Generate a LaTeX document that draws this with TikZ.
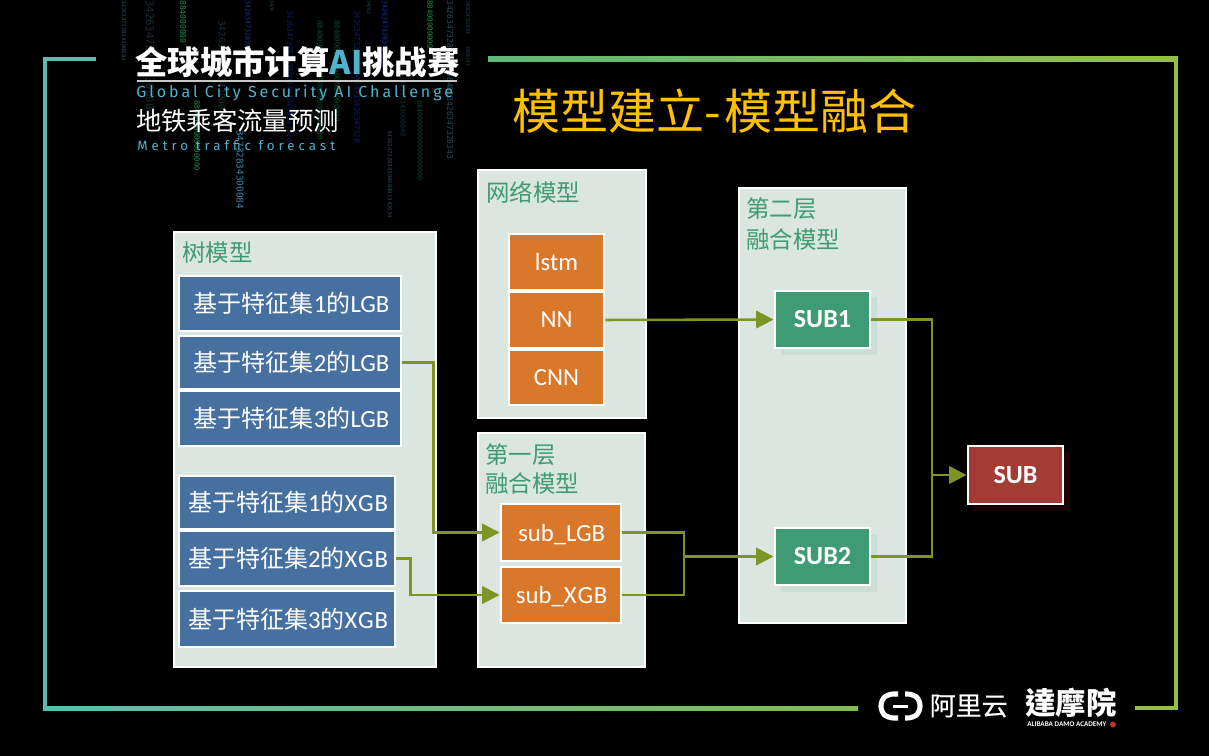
\documentclass[tikz,border=0pt]{standalone}
\usepackage{fontspec}
\usetikzlibrary{arrows.meta}
\setmainfont[Scale=1.03]{Carlito}
\newfontfamily\cj{Noto Sans CJK SC}
\newfontfamily\cjm[FakeBold=0.25]{Noto Sans CJK SC}
\newfontfamily\cjtc{Noto Sans CJK TC}
\newfontfamily\din[LetterSpace=18.5]{Fira Sans}
\newfontfamily\dinb[LetterSpace=30]{Fira Sans}
\newfontfamily\rainf{DejaVu Sans Mono}
\definecolor{panelc}{HTML}{DCE6E0}
\definecolor{headc}{HTML}{3F9B73}
\definecolor{bluec}{HTML}{46709F}
\definecolor{orangec}{HTML}{D9782A}
\definecolor{greenc}{HTML}{3F9B73}
\definecolor{redc}{HTML}{A33C34}
\definecolor{linkc}{HTML}{7F9427}
\definecolor{titlec}{HTML}{FFC000}
\definecolor{cyanc}{HTML}{4FB3CC}
\definecolor{rslate}{HTML}{2A4A58}
\definecolor{rdim}{HTML}{1C2C34}
\definecolor{rgreen}{HTML}{1F8A48}
\definecolor{rdgreen}{HTML}{0F4A2A}
\definecolor{rblue}{HTML}{2030A0}
\definecolor{rdblue}{HTML}{141C60}
\definecolor{rlight}{HTML}{3E86A8}
\tikzset{
  panel/.style={draw=white,line width=1.5pt,fill=panelc,inner sep=0pt},
  boxb/.style={draw=white,line width=1.8pt,inner sep=0pt,text=white,font=\fontsize{18}{20}\selectfont},
  blueb/.style={boxb,fill=bluec,text height=14.2pt,text depth=0pt},
  orangeb/.style={boxb,fill=orangec},
  subb/.style={orangeb,text height=13pt,text depth=0pt},
  greenb/.style={boxb,fill=greenc,font=\fontsize{19}{20}\selectfont\bfseries},
  redb/.style={boxb,fill=redc,font=\fontsize{19}{20}\selectfont\bfseries},
  head/.style={text=headc,anchor=west,inner sep=0pt,font=\fontsize{17.6}{20}\selectfont\cj},
  link/.style={draw=linkc,line width=1.9pt},
  arrowed/.style={link,-{Triangle[length=13pt,width=13pt]}},
  rain/.style={rotate=-90,anchor=west,inner sep=0pt,font=\rainf}
}
\newcommand\bx[7]{\node[#6,minimum width={(#4-#2-1.5)*0.75pt},minimum height={(#5-#3-1.5)*0.75pt}] (#1) at ({(#2+#4)/2},{(#3+#5)/2}) {#7};}
\newcommand\rainc[6]{\node[rain,text=#5] (#1) at (#2,#3) {\fontsize{#4}{#4}\selectfont #6};}
\newcommand\lgbt[1]{\kern2.5pt{\cj 基于特征集}#1{\cj 的}LGB}
\newcommand\xgbt[1]{\kern1.5pt{\cj 基于特征集}#1{\cj 的}X\kern0.6pt G\kern0.6pt B}
\begin{document}
\begin{tikzpicture}[x=0.75pt,y=-0.75pt]
\useasboundingbox (0,0) rectangle (1209,756);
\fill[black] (0,0) rectangle (1209,756);
% frame
\fill[color={rgb,255:red,92;green,188;blue,176}] (43,57) rectangle (96,61.5);
\fill[color={rgb,255:red,92;green,188;blue,176}] (43,57) rectangle (47,710);
\shade[left color={rgb,255:red,92;green,188;blue,176},right color={rgb,255:red,130;green,190;blue,80}] (43,706) rectangle (858,710);
\shade[left color={rgb,255:red,96;green,184;blue,120},right color={rgb,255:red,150;green,190;blue,75}] (488,57) rectangle (1178,61.5);
\fill[color={rgb,255:red,150;green,190;blue,75}] (1174,57) rectangle (1178,710);
\fill[color={rgb,255:red,150;green,190;blue,75}] (1135,706) rectangle (1178,710);
% digit rain
\rainc{r1}{124}{0}{4.2}{rslate}{342634732834300084}
\rainc{r2}{150}{0}{8}{rdim}{34263473283430008401}
\rainc{r3}{183}{0}{6}{rgreen}{884000000}
\rainc{r4}{197}{100}{5.5}{rgreen}{8840000000000000}
\rainc{r5}{222}{20}{7}{rdim}{34263473283430008401}
\rainc{r6}{248}{0}{5}{rblue}{34263473283430008}
\rainc{r7}{240}{130}{7}{rlight}{34732834300084}
\rainc{r8}{272}{0}{3.5}{rslate}{3426}
\rainc{r9}{290}{10}{5.5}{rdblue}{342634732834300084013426347328}
\rainc{r10}{320}{20}{5.5}{rdgreen}{884000000000000000000000000}
\rainc{r11}{337}{20}{5.5}{rdgreen}{88400000000000000000000}
\rainc{r12}{357}{10}{5.5}{rdblue}{342634732834300084013426347328}
\rainc{r13}{369}{0}{3.5}{rslate}{34263}
\rainc{r14}{385}{0}{5}{rblue}{34263473283430008}
\rainc{r15}{390}{130}{4.2}{rslate}{34263473283430008401342634}
\rainc{r16}{403}{60}{5}{rdim}{3426347328343000840}
\rainc{r17}{420}{100}{5}{rdgreen}{88400000000000000000}
\rainc{r18}{430}{0}{5.5}{rgreen}{88400000000}
\rainc{r19}{450}{0}{6}{rslate}{342634732834300084013426347328343}
\rainc{r20}{468}{0}{3.5}{rslate}{342634732834}
\rainc{r21}{468}{46}{3.5}{rslate}{3426347}
% logo
\node[anchor=west,inner sep=0pt,text=white,font=\fontsize{24.3}{26}\selectfont\cj\bfseries] (logo) at (135,62) {全球城市计算{\color{cyanc}AI}挑战赛};
\draw[color={rgb,255:red,200;green,200;blue,200},line width=0.8pt] (137,81) -- (457,81);
\node[anchor=west,inner sep=0pt,text=cyanc,font=\din\fontsize{12}{14}\selectfont] (logoen) at (136,93) {Global City Security AI Challenge};
\node[anchor=west,inner sep=0pt,text=white,font=\fontsize{19}{21}\selectfont\cj] (metro) at (136,121) {地铁乘客流量预测};
\node[anchor=west,inner sep=0pt,text=cyanc,font=\dinb\fontsize{10}{12}\selectfont] (metroen) at (137,146) {Metro traffic forecast};
% title
\node[anchor=west,inner sep=0pt,text=titlec,font=\fontsize{36}{40}\selectfont\cj] (title) at (512.5,111.5) {模型建立-\kern2pt模型融合};
% panels
\bx{tree}{173}{231}{437}{668}{panel}{}
\bx{net}{477}{169}{647}{419}{panel}{}
\bx{first}{477}{432}{646}{668}{panel}{}
\bx{second}{738}{187}{907}{624}{panel}{}
\node[head] (treeh) at (182,253) {树模型};
\node[head] (neth) at (486,192) {网络模型};
\node[head] (firsth) at (485,455) {第一层};
\node[head] (firsth2) at (485,484) {融合模型};
\node[head] (secondh) at (746,209) {第二层};
\node[head] (secondh2) at (746,240) {融合模型};
% shadows
\fill[color={rgb,255:red,205;green,222;blue,214}] (781,297) rectangle (877,355);
\fill[color={rgb,255:red,205;green,222;blue,214}] (781,534) rectangle (877,592);
\fill[color={rgb,255:red,24;green,6;blue,6}] (973,452) rectangle (1070,511);
% boxes
\bx{lgba}{178}{275}{402}{332}{blueb}{\lgbt{1}}
\bx{lgbb}{178}{335}{402}{390}{blueb}{\lgbt{2}}
\bx{lgbc}{178}{390}{402}{447}{blueb}{\lgbt{3}}
\bx{xgba}{178}{475}{396}{530}{blueb}{\xgbt{1}}
\bx{xgbb}{178}{530}{396}{587}{blueb}{\xgbt{2}}
\bx{xgbc}{178}{590}{396}{648}{blueb}{\xgbt{3}}
\bx{lstm}{508}{233}{605}{291}{orangeb}{lstm}
\bx{nn}{508}{291}{605}{349}{orangeb}{NN}
\bx{cnn}{508}{349}{605}{406}{orangeb}{CNN}
\bx{sublgb}{500}{503}{622}{562}{subb}{\kern1pt sub\_LGB}
\bx{subxgb}{500}{566}{622}{624}{subb}{\kern1pt sub\_X\kern0.6pt G\kern0.6pt B}
\bx{subone}{774}{290}{871}{349}{greenb}{SUB1}
\bx{subtwo}{774}{527}{871}{586}{greenb}{SUB2}
\bx{suball}{967}{445}{1064}{505}{redb}{SUB}
% connectors
\coordinate (mergea) at (684,556.5);
\coordinate (mergeb) at (932,475);
\draw[arrowed] (lgbb.east) -- ++(31,0) |- (sublgb.west);
\draw[arrowed] (xgbb.east) -- ++(14,0) |- (subxgb.west);
\draw[arrowed] (nn.east) -- (subone.west);
\draw[link] (sublgb.east) -| (mergea);
\draw[link] (subxgb.east) -| (mergea);
\draw[arrowed] (mergea) -- (subtwo.west);
\draw[link] (subone.east) -| (mergeb);
\draw[link] (subtwo.east) -| (mergeb);
\draw[arrowed] (mergeb) -- (suball.west);
% bottom logos
\draw[white,line width=3.8pt,rounded corners=4pt] (898,694) -- (888,694) -- (881,700) -- (881,712) -- (888,718) -- (898,718);
\draw[white,line width=3.8pt,rounded corners=4pt] (905,694) -- (913,694) -- (920,700) -- (920,712) -- (913,718) -- (905,718);
\fill[white] (893,705) rectangle (908,708);
\node[anchor=west,inner sep=0pt,text=white,font=\fontsize{19.5}{21}\selectfont\cjm] (aliyun) at (929.5,706) {阿里云};
\node[anchor=west,inner sep=0pt,text=white,font=\fontsize{22.8}{24}\selectfont\cjtc\bfseries] (damo) at (1025,703) {達摩院};
\node[anchor=west,inner sep=0pt,text=white,font=\fontsize{5.2}{6}\selectfont\bfseries] (damoen) at (1027,724) {ALIBABA DAMO ACADEMY};
\fill[color={rgb,255:red,190;green,50;blue,40}] (1113,724.5) circle (3);
\end{tikzpicture}
\end{document}
